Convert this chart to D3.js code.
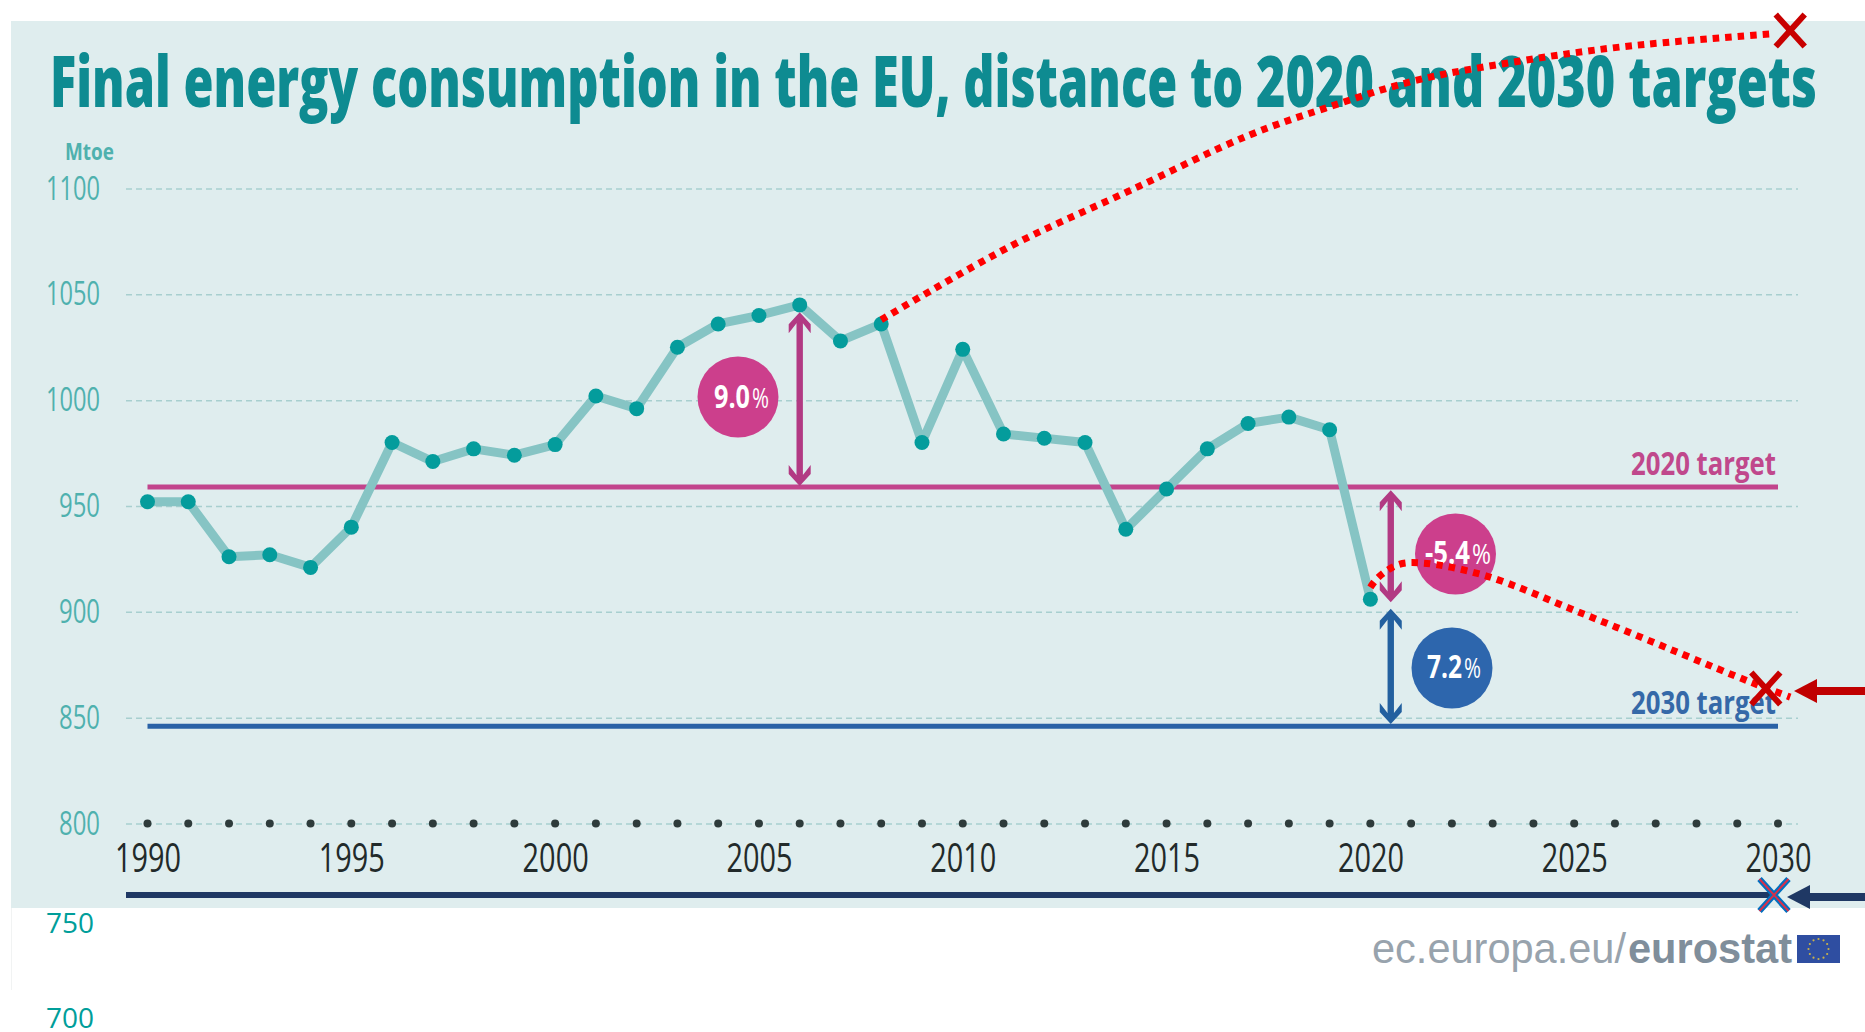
<!DOCTYPE html>
<html>
<head>
<meta charset="utf-8">
<title>Final energy consumption in the EU</title>
<script src="https://cdn.jsdelivr.net/npm/d3@7"></script>
<style>
    html, body { margin: 0; padding: 0; background: #fff; }
    svg { display: block; }
    text { font-family: "Open Sans", sans-serif; }
</style>
</head>
<body>
<div id="chart"></div>
<script>
// values
const years = d3.range(1990, 2021)
const consumption = [952, 952, 926, 927, 921, 940, 980, 971, 977, 974, 979, 1002, 996, 1025, 1036, 1040, 1045, 1028, 1036, 980, 1024, 984, 982, 980, 939, 958, 977, 989, 992, 986, 906]
const axisYears = d3.range(1990, 2031)
const labelYears = [1990, 1995, 2000, 2005, 2010, 2015, 2020, 2025, 2030]
const yTicks = [800, 850, 900, 950, 1000, 1050, 1100]
const lowerTicks = [750, 700]
const target2020 = 959
const target2030 = 846
const targetYears = [1990, 2030]

// red dotted hand drawn paths [year, value]
const upperPathYears = [2008, 2011.2, 2014.1, 2017, 2018.9, 2021.1, 2023.6, 2026.2, 2029.8]
const upperPathValues = [1038, 1073, 1099, 1125, 1138, 1151, 1160, 1167, 1173]
const lowerPathYears = [2020, 2020.2, 2020.7, 2021.3, 2022.8, 2025.2, 2027.6, 2029.3, 2030.3]
const lowerPathValues = [911.6, 916.4, 922.4, 923, 917.2, 899.2, 880.4, 867, 859.7]

const width = 1865
const height = 1032
const teal = '#0e8b91'
const tickTeal = '#4fb1ae'
const blue = '#2a62a6'
const navy = '#1f3864'
const darkRed = '#c80000'

const x = d3.scaleLinear().domain([1990, 2030]).range([147.5, 1778])
const y = d3.scaleLinear().domain([800, 1100]).range([823.5, 188.5])
const yLower = d3.scaleLinear().domain([700, 750]).range([1028, 933])

const svg = d3.select('#chart').append('svg')
    .attr('width', width)
    .attr('height', height)

// panel
svg.append('rect')
    .attr('x', 11)
    .attr('y', 21)
    .attr('width', width - 11)
    .attr('height', 887)
    .attr('fill', '#dfedee')
svg.append('line')
    .attr('x1', 11.5)
    .attr('x2', 11.5)
    .attr('y1', 908)
    .attr('y2', 990)
    .attr('stroke', '#f1f3f3')

// title, the two halves are fitted apart so the words land where they should
const title = svg.append('text')
    .attr('x', 50)
    .attr('y', 107)
    .attr('font-size', 70)
    .attr('font-weight', 800)
    .attr('fill', teal)
title.append('tspan')
    .attr('textLength', 1206)
    .attr('lengthAdjust', 'spacingAndGlyphs')
    .text('Final energy consumption in the EU, distance to ')
title.append('tspan')
    .attr('x', 1256)
    .attr('textLength', 561)
    .attr('lengthAdjust', 'spacingAndGlyphs')
    .text('2020 and 2030 targets')

svg.append('text')
    .attr('x', 65)
    .attr('y', 160)
    .attr('font-size', 23)
    .attr('font-weight', 700)
    .attr('fill', tickTeal)
    .attr('textLength', 49)
    .attr('lengthAdjust', 'spacingAndGlyphs')
    .text('Mtoe')

// y axis with the dashed grid
const gridLeft = 126
const gridRight = 1798
const yAxis = svg.append('g')
    .attr('transform', `translate(${gridLeft},0)`)
    .call(d3.axisLeft(y)
        .tickValues(yTicks)
        .tickSizeInner(-(gridRight - gridLeft))
        .tickSizeOuter(0)
        .tickPadding(26)
        .tickFormat(d3.format('d')))
yAxis.select('.domain').remove()
yAxis.selectAll('line')
    .attr('stroke', '#a8cfcf')
    .attr('stroke-width', 1.5)
    .attr('stroke-dasharray', '6,4')
yAxis.selectAll('text')
    .attr('font-size', 33)
    .attr('font-family', '"Open Sans", sans-serif')
    .attr('fill', tickTeal)
    .attr('textLength', d => d >= 1000 ? 54 : 41)
    .attr('lengthAdjust', 'spacingAndGlyphs')

// the two stray labels under the panel
svg.append('g').selectAll('text')
    .data(lowerTicks)
    .join('text')
    .attr('x', 46)
    .attr('y', d => yLower(d))
    .attr('font-size', 28)
    .attr('fill', '#009e9a')
    .text(d => d)

// x axis: year labels and a dot for each year
const xAxis = svg.append('g')
    .attr('transform', `translate(0,${y(800)})`)
    .call(d3.axisBottom(x)
        .tickValues(labelYears)
        .tickSize(0)
        .tickPadding(20)
        .tickFormat(d3.format('d')))
xAxis.select('.domain').remove()
xAxis.selectAll('text')
    .attr('font-size', 40)
    .attr('font-family', '"Open Sans", sans-serif')
    .attr('fill', '#222a2a')
    .attr('textLength', 66)
    .attr('lengthAdjust', 'spacingAndGlyphs')

svg.append('g').selectAll('circle')
    .data(axisYears)
    .join('circle')
    .attr('cx', d => x(d))
    .attr('cy', y(800))
    .attr('r', 4)
    .attr('fill', '#2e3b3b')

// navy base line under the axis
svg.append('line')
    .attr('x1', gridLeft)
    .attr('x2', 1774)
    .attr('y1', 895)
    .attr('y2', 895)
    .attr('stroke', navy)
    .attr('stroke-width', 6)

// target lines
const targets = [
    { value: target2020, color: '#c2448c', label: '2020 target', labelColor: '#c0488c', baseline: 475 },
    { value: target2030, color: blue, label: '2030 target', labelColor: '#3569a8', baseline: 714 }
]
svg.append('g').selectAll('line')
    .data(targets)
    .join('line')
    .attr('x1', x(targetYears[0]))
    .attr('x2', x(targetYears[1]))
    .attr('y1', d => y(d.value))
    .attr('y2', d => y(d.value))
    .attr('stroke', d => d.color)
    .attr('stroke-width', 5)
svg.append('g').selectAll('text')
    .data(targets)
    .join('text')
    .attr('x', 1776)
    .attr('y', d => d.baseline)
    .attr('text-anchor', 'end')
    .attr('font-size', 32)
    .attr('font-weight', 700)
    .attr('fill', d => d.labelColor)
    .attr('textLength', 145)
    .attr('lengthAdjust', 'spacingAndGlyphs')
    .text(d => d.label)

// consumption line
const line = d3.line()
    .x((d, i) => x(years[i]))
    .y(d => y(d))
svg.append('path')
    .attr('d', line(consumption))
    .attr('fill', 'none')
    .attr('stroke', '#86c4c4')
    .attr('stroke-width', 9)
    .attr('stroke-linejoin', 'round')
svg.append('g').selectAll('circle')
    .data(consumption)
    .join('circle')
    .attr('cx', (d, i) => x(years[i]))
    .attr('cy', d => y(d))
    .attr('r', 7.5)
    .attr('fill', '#049c9c')

// double headed arrows
function appendArrow (year, from, to, color) {
    const px = x(year)
    const top = y(from)
    const bottom = y(to)
    const head = (tip, dir) => `M${px},${tip}L${px + 11},${tip + dir * 12}L${px + 11},${tip + dir * 21}L${px + 3.2},${tip + dir * 11}L${px - 3.2},${tip + dir * 11}L${px - 11},${tip + dir * 21}L${px - 11},${tip + dir * 12}Z`
    svg.append('line')
        .attr('x1', px)
        .attr('x2', px)
        .attr('y1', top + 10)
        .attr('y2', bottom - 10)
        .attr('stroke', color)
        .attr('stroke-width', 6.4)
    svg.append('path')
        .attr('d', head(top, 1) + head(bottom, -1))
        .attr('fill', color)
}
appendArrow(2006, 1041.5, 959.5, '#b23a83')
appendArrow(2020.5, 957.5, 904.5, '#b23a83')
appendArrow(2020.5, 901.5, 847, '#23609f')

// percent bubbles
const bubbles = [
    { cx: 738, cy: 397, color: '#cc3f8c', label: '9.0', split: 750, baseline: 408, numWidth: 36, pctWidth: 17 },
    { cx: 1455.5, cy: 554, color: '#cc3f8c', label: '-5.4', split: 1470, baseline: 564, numWidth: 45, pctWidth: 19 },
    { cx: 1452, cy: 668, color: '#2d66ad', label: '7.2', split: 1462, baseline: 678, numWidth: 35, pctWidth: 17 }
]
const bubble = svg.append('g').selectAll('g')
    .data(bubbles)
    .join('g')
bubble.append('circle')
    .attr('cx', d => d.cx)
    .attr('cy', d => d.cy)
    .attr('r', 40.5)
    .attr('fill', d => d.color)
bubble.append('text')
    .attr('x', d => d.split)
    .attr('y', d => d.baseline)
    .attr('text-anchor', 'end')
    .attr('font-size', 33)
    .attr('font-weight', 700)
    .attr('fill', '#fff')
    .attr('textLength', d => d.numWidth)
    .attr('lengthAdjust', 'spacingAndGlyphs')
    .text(d => d.label)
bubble.append('text')
    .attr('x', d => d.split + 2)
    .attr('y', d => d.baseline)
    .attr('font-size', 27)
    .attr('fill', '#fff')
    .attr('textLength', d => d.pctWidth)
    .attr('lengthAdjust', 'spacingAndGlyphs')
    .text('%')

// red dotted paths on top of everything
const freeLine = d3.line()
    .x(d => x(d[0]))
    .y(d => y(d[1]))
    .curve(d3.curveCatmullRom)
const redPaths = [
    d3.zip(upperPathYears, upperPathValues),
    d3.zip(lowerPathYears, lowerPathValues)
]
svg.append('g').selectAll('path')
    .data(redPaths)
    .join('path')
    .attr('d', d => freeLine(d))
    .attr('fill', 'none')
    .attr('stroke', '#f00')
    .attr('stroke-width', 7)
    .attr('stroke-dasharray', '6.5,6')

// crosses
function appendCross (cx, cy, color, strokeWidth, inner) {
    const cross = `M${cx - 14.5},${cy - 16}L${cx + 14.5},${cy + 16}M${cx + 14.5},${cy - 16}L${cx - 14.5},${cy + 16}`
    svg.append('path')
        .attr('d', cross)
        .attr('fill', 'none')
        .attr('stroke', color)
        .attr('stroke-width', strokeWidth)
    if (inner) {
        svg.append('path')
            .attr('d', cross)
            .attr('fill', 'none')
            .attr('stroke', inner)
            .attr('stroke-width', 2)
    }
}
appendCross(x(2030.3), y(1174.6), darkRed, 6)
appendCross(x(2029.7), y(863.8), darkRed, 6)
appendCross(1774, 895, '#0070c0', 6, '#d8304a')

// arrows coming in from the right edge
function appendPointer (tipX, cy, color) {
    svg.append('line')
        .attr('x1', tipX + 20)
        .attr('x2', width)
        .attr('y1', cy)
        .attr('y2', cy)
        .attr('stroke', color)
        .attr('stroke-width', 8)
    svg.append('path')
        .attr('d', `M${tipX},${cy}L${tipX + 23},${cy - 12}L${tipX + 23},${cy + 12}Z`)
        .attr('fill', color)
}
appendPointer(1794, 691, '#c00000')
appendPointer(1787, 897, navy)

// eurostat logo
svg.append('text')
    .attr('x', 1372)
    .attr('y', 963)
    .attr('font-size', 43)
    .attr('fill', '#98a3ad')
    .attr('textLength', 254)
    .attr('lengthAdjust', 'spacingAndGlyphs')
    .style('font-family', '"Liberation Sans", sans-serif')
    .text('ec.europa.eu/')
svg.append('text')
    .attr('x', 1628)
    .attr('y', 963)
    .attr('font-size', 43)
    .attr('font-weight', 700)
    .attr('fill', '#7f8e9b')
    .attr('textLength', 164)
    .attr('lengthAdjust', 'spacingAndGlyphs')
    .style('font-family', '"Liberation Sans", sans-serif')
    .text('eurostat')
svg.append('rect')
    .attr('x', 1797)
    .attr('y', 935)
    .attr('width', 43)
    .attr('height', 28)
    .attr('fill', '#2f4ea1')
svg.append('g').selectAll('circle')
    .data(d3.range(12))
    .join('circle')
    .attr('cx', d => 1818.5 + 10 * Math.cos(d * Math.PI / 6))
    .attr('cy', d => 949 + 10 * Math.sin(d * Math.PI / 6))
    .attr('r', 1.1)
    .attr('fill', '#c9b24a')
</script>
</body>
</html>
